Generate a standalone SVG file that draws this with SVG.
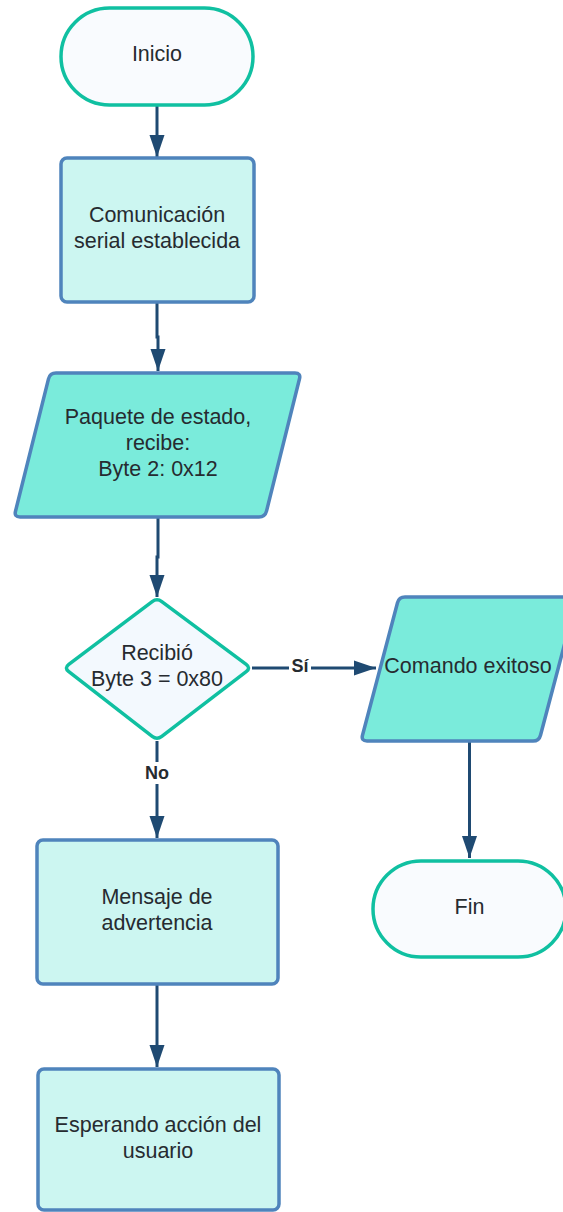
<svg xmlns="http://www.w3.org/2000/svg" width="563" height="1212" viewBox="0 0 563 1212">
<defs>
<style>
.term{fill:#f9fbfe;stroke:#10c0a1;stroke-width:3.5}
.proc{fill:#ccf6f1;stroke:#4f84bc;stroke-width:3.5}
.io{fill:#7aebdb;stroke:#4f84bc;stroke-width:3.5}
.dec{fill:#f3f9fe;stroke:#10c0a1;stroke-width:3.5}
.t{font-family:"Liberation Sans",Arial,sans-serif;font-size:21.5px;fill:#262b30;text-anchor:middle}
.lbl{font-family:"Liberation Sans",Arial,sans-serif;font-size:18px;font-weight:bold;fill:#262b30;text-anchor:middle}
.c{fill:none;stroke:#1f4a72;stroke-width:3}
</style>
<marker id="ah" markerUnits="userSpaceOnUse" markerWidth="22" markerHeight="16" refX="22" refY="8" orient="auto">
<path d="M0,0.5 L22,8 L0,15.5 Z" fill="#1f4a72"/>
</marker>
</defs>
<g id="connectors">
<path class="c" d="M157,106 V157" marker-end="url(#ah)"/>
<path class="c" d="M157,303 V337 H158 V371" marker-end="url(#ah)"/>
<path class="c" d="M158,518 V557 H157 V597" marker-end="url(#ah)"/>
<path class="c" d="M252,668 H376" marker-end="url(#ah)"/>
<path class="c" d="M469.5,742 V858" marker-end="url(#ah)"/>
<path class="c" d="M157,741 V838" marker-end="url(#ah)"/>
<path class="c" d="M157,985 V1067" marker-end="url(#ah)"/>
<rect x="289" y="655" width="22" height="20" fill="#ffffff"/>
<text class="lbl" x="300" y="672">Sí</text>
<rect x="144" y="762" width="27" height="22" fill="#ffffff"/>
<text class="lbl" x="157" y="779">No</text>
</g>
<g id="inicio">
<rect class="term" x="61" y="8" width="192" height="97" rx="48.5"/>
<text class="t" x="157" y="61">Inicio</text>
</g>
<g id="comunicacion">
<rect class="proc" x="61" y="158" width="193" height="144" rx="6"/>
<text class="t" x="157" y="222">Comunicación</text>
<text class="t" x="157" y="248">serial establecida</text>
</g>
<g id="paquete">
<path class="io" d="M56,373 H295 Q301,373 299.5,378.8 L266.5,511.2 Q265,517 259,517 H20 Q14,517 15.5,511.2 L48.5,378.8 Q50,373 56,373 Z"/>
<text class="t" x="158" y="424">Paquete de estado,</text>
<text class="t" x="158" y="450">recibe:</text>
<text class="t" x="158" y="476">Byte 2: 0x12</text>
</g>
<g id="decision">
<path class="dec" d="M152.2,601.6 Q157,598 161.8,601.6 L246.2,664.4 Q251,668 246.2,671.6 L161.8,736.4 Q157,740 152.2,736.4 L68.8,671.6 Q64,668 68.8,664.4 Z"/>
<text class="t" x="157" y="660">Recibió</text>
<text class="t" x="157" y="686">Byte 3 = 0x80</text>
</g>
<g id="comando">
<path class="io" d="M405,597 H571 Q577,597 575.5,602.8 L540.5,735.2 Q539,741 533,741 H367 Q361,741 362.5,735.2 L397.5,602.8 Q399,597 405,597 Z"/>
<text class="t" x="468" y="673">Comando exitoso</text>
</g>
<g id="fin">
<rect class="term" x="373" y="861" width="193" height="96" rx="48"/>
<text class="t" x="469.5" y="914">Fin</text>
</g>
<g id="mensaje">
<rect class="proc" x="37" y="840" width="241" height="144" rx="6"/>
<text class="t" x="157" y="904">Mensaje de</text>
<text class="t" x="157" y="930">advertencia</text>
</g>
<g id="esperando">
<rect class="proc" x="38" y="1069" width="241" height="141" rx="6"/>
<text class="t" x="158" y="1132">Esperando acción del</text>
<text class="t" x="158" y="1158">usuario</text>
</g>
</svg>
